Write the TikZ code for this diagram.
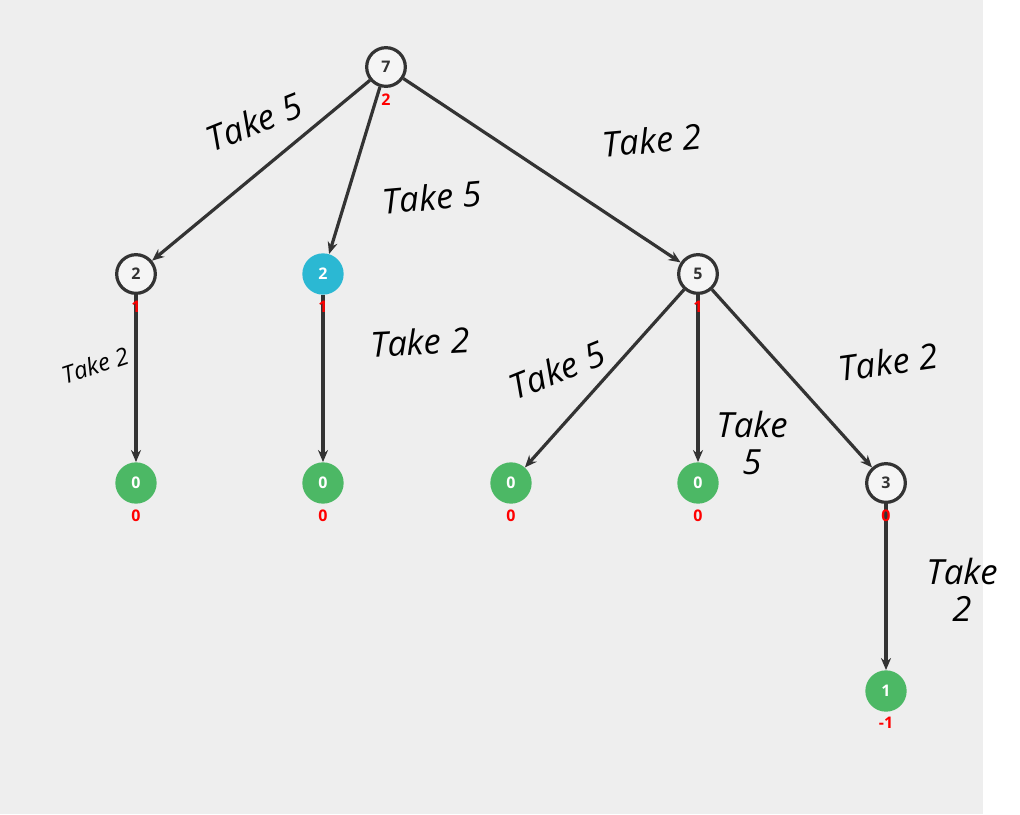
\documentclass[tikz,border=0pt]{standalone}
\usepackage{fontspec}
\setmainfont{Open Sans}
\usetikzlibrary{arrows.meta}
\definecolor{bggray}{HTML}{EEEEEE}
\definecolor{linegray}{HTML}{333333}
\definecolor{leafgreen}{HTML}{4CB865}
\definecolor{pickcyan}{HTML}{2BB8D3}
\definecolor{costred}{HTML}{FF0000}
\begin{document}
\begin{tikzpicture}[x=0.75pt, y=-0.75pt,
    state/.style={circle, draw=linegray, line width=2.4pt, fill=bggray!60!white,
        minimum size=29pt, inner sep=0pt, font=\fontsize{12}{14}\selectfont\bfseries, text=linegray},
    leaf/.style={circle, fill=leafgreen, minimum size=31pt, inner sep=0pt,
        font=\fontsize{12}{14}\selectfont\bfseries, text=white},
    chosen/.style={leaf, fill=pickcyan},
    cost/.style={text=costred, font=\fontsize{12}{14}\selectfont\bfseries, inner sep=0pt},
    move/.style={line width=2.4pt, draw=linegray, -{Stealth[length=9pt, width=7.5pt]}},
    hand/.style={font=\fontsize{26}{28}\selectfont\itshape, text=black, inner sep=0pt}]

    % background, gray panel with white strip at the right
    \useasboundingbox (0,0) rectangle (1020,814);
    \fill[bggray] (0,0) rectangle (983,814);

    % states
    \node[state] (root) at (386,67) {7};
    \node[state] (left) at (136,274) {2};
    \node[chosen] (mid) at (323,274) {2};
    \node[state] (right) at (698,274) {5};
    \node[leaf] (leftleaf) at (136,483) {0};
    \node[leaf] (midleaf) at (323,483) {0};
    \node[leaf] (rleafa) at (511,483) {0};
    \node[leaf] (rleafb) at (698,483) {0};
    \node[state] (rthree) at (886,483) {3};
    \node[leaf] (last) at (886,691) {1};

    % moves
    \draw[move] (root) -- (left);
    \draw[move] (root) -- (mid);
    \draw[move] (root) -- (right);
    \draw[move] (left) -- (leftleaf);
    \draw[move] (mid) -- (midleaf);
    \draw[move] (right) -- (rleafa);
    \draw[move] (right) -- (rleafb);
    \draw[move] (right) -- (rthree);
    \draw[move] (rthree) -- (last);

    % values under the states
    \node[cost] (vroot) at (386,100) {2};
    \node[cost] (vleft) at (136,307) {1};
    \node[cost] (vmid) at (323,307) {1};
    \node[cost] (vright) at (698,307) {1};
    \node[cost] (vla) at (136,516) {0};
    \node[cost] (vma) at (323,516) {0};
    \node[cost] (vra) at (511,516) {0};
    \node[cost] (vrb) at (698,516) {0};
    \node[cost] (vthree) at (886,516) {0};
    \node[cost] (vlast) at (886,723) {-1};

    % handwritten notes
    \node[hand, rotate=22] (n1) at (254,122) {Take 5};
    \node[hand, rotate=5] (n2) at (432,197) {Take 5};
    \node[hand, rotate=5] (n3) at (652,140) {Take 2};
    \node[hand, rotate=18, font=\fontsize{18}{20}\selectfont\itshape] (n4) at (95,365) {Take 2};
    \node[hand, rotate=3] (n5) at (420,342) {Take 2};
    \node[hand, rotate=22] (n6) at (557,370) {Take 5};
    \node[hand, align=center] (n7) at (752,443) {Take\\5};
    \node[hand, rotate=8] (n8) at (888,362) {Take 2};
    \node[hand, align=center] (n9) at (962,590) {Take\\2};
\end{tikzpicture}
\end{document}
